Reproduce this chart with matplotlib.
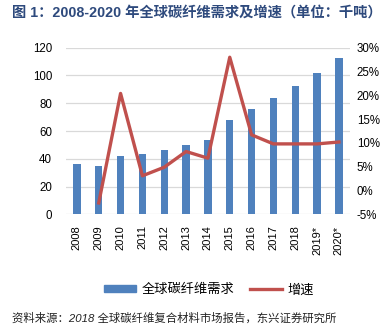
import matplotlib.pyplot as plt
from matplotlib.lines import Line2D
from matplotlib.patches import Patch
import numpy as np

plt.rcParams['font.family'] = ['Liberation Sans', 'Noto Sans CJK SC', 'DejaVu Sans']

# ---- DATA ----
years = ["2008", "2009", "2010", "2011", "2012", "2013", "2014",
         "2015", "2016", "2017", "2018", "2019*", "2020*"]
demand = [36, 34.8, 42, 43.6, 46.3, 49.7, 53.3, 67.9, 75.8, 83.7, 92.4, 102, 112.3]
growth_years = years[1:]
growth = [-2.6, 20.4, 3.1, 4.9, 8.2, 6.8, 28.0, 11.7, 9.8, 9.8, 9.8, 10.2]

BLUE = "#4F81BD"
RED = "#C0504D"
GRID = "#D9D9D9"

fig = plt.figure(figsize=(3.87, 3.36), dpi=100)
ax = fig.add_axes([0.1705, 0.362, 0.7335, 0.496])

x = np.arange(len(years))
ax.bar(x, demand, width=0.34, color=BLUE, zorder=2)
ax.set_ylim(0, 120)
ax.set_yticks(range(0, 121, 20))
ax.set_xlim(-0.5, len(years) - 0.5)
ax.set_xticks(x)
ax.set_xticklabels(years, rotation=90, fontsize=8)
ax.tick_params(axis="y", labelsize=8.3, length=0, pad=10)
ax.tick_params(axis="x", length=0, pad=8)
ax.grid(axis="y", color=GRID, lw=0.9, zorder=0)
for s in ax.spines.values():
    s.set_visible(False)

ax2 = ax.twinx()
ax2.plot(x[1:], growth, color=RED, lw=2.4, zorder=3)
ax2.set_ylim(-5, 30)
ax2.set_yticks(range(-5, 31, 5))
ax2.set_yticklabels([f"{v}%" for v in range(-5, 31, 5)])
ax2.tick_params(axis="y", labelsize=8.3, length=0, pad=5)
for s in ax2.spines.values():
    s.set_visible(False)

handles = [Patch(color=BLUE), Line2D([], [], color=RED, lw=2.4)]
fig.legend(handles, ["全球碳纤维需求", "增速"], loc="center", bbox_to_anchor=(0.54, 0.137),
           ncol=2, frameon=False, handlelength=2.4, handleheight=0.45,
           columnspacing=1.2, handletextpad=0.4,
           prop={"family": ["Noto Sans CJK SC"], "size": 9.5})

fig.text(0.03, 0.962, "图 1：2008-2020 年全球碳纤维需求及增速（单位：千吨）",
         fontsize=10.3, fontweight="bold", color="#2E4A7D", va="center",
         family=["Liberation Sans", "Noto Sans CJK SC"])
fig.text(0.03, 0.053, "资料来源：2018 全球碳纤维复合材料市场报告，东兴证券研究所",
         fontsize=8.2, style="italic", color="#222222", va="center",
         family=["Liberation Sans", "Noto Sans CJK SC"])

fig.savefig("out.png", dpi=100)
